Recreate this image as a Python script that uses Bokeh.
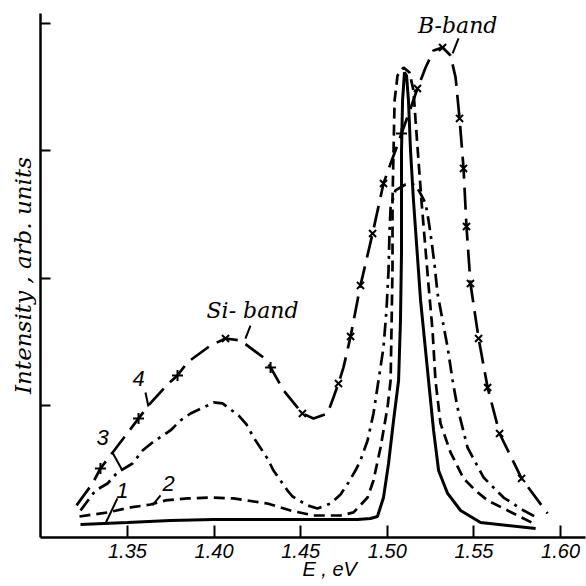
from bokeh.plotting import figure
from bokeh.models import Range1d, FixedTicker, Label, PrintfTickFormatter
from bokeh.embed import file_html
from bokeh.resources import INLINE

# ---- data (E in eV, intensity in arb. units) ----
x_ticks = [1.35, 1.40, 1.45, 1.50, 1.55, 1.60]
y_ticks = [1, 2, 3, 4]

c1_x = [1.3229, 1.3500, 1.3748, 1.3997, 1.4499, 1.4828, 1.4903, 1.4943, 1.4978, 1.5007,
        1.5036, 1.5065, 1.5076, 1.5082, 1.5082, 1.5088, 1.5099, 1.5111, 1.5122, 1.5134,
        1.5151, 1.5192, 1.5238, 1.5267, 1.5296, 1.5348, 1.5423, 1.5538, 1.5856]
c1_y = [0.065, 0.081, 0.097, 0.104, 0.104, 0.104, 0.112, 0.128, 0.277, 0.544,
        0.882, 1.196, 1.668, 2.218, 3.003, 3.396, 3.616, 3.592, 3.396, 3.003,
        2.610, 1.825, 1.196, 0.804, 0.489, 0.309, 0.175, 0.081, 0.034]

c2_x = [1.3223, 1.3385, 1.3517, 1.3633, 1.3719, 1.3846, 1.3997, 1.4112, 1.4308, 1.4441,
        1.4574, 1.4730, 1.4805, 1.4886, 1.4920, 1.4961, 1.5001, 1.5019, 1.5024, 1.5030,
        1.5030, 1.5036, 1.5042, 1.5059, 1.5094, 1.5128, 1.5151, 1.5163, 1.5180, 1.5197,
        1.5221, 1.5238, 1.5261, 1.5278, 1.5307, 1.5365, 1.5440, 1.5509, 1.5579, 1.5729,
        1.5844]
c2_y = [0.128, 0.160, 0.199, 0.222, 0.254, 0.270, 0.277, 0.270, 0.230, 0.175,
        0.136, 0.136, 0.160, 0.277, 0.411, 0.670, 0.984, 1.196, 1.589, 2.084,
        2.610, 3.003, 3.396, 3.592, 3.655, 3.616, 3.474, 3.239, 2.925, 2.610,
        2.218, 1.943, 1.589, 1.196, 0.859, 0.631, 0.427, 0.332, 0.254, 0.152,
        0.073]

c3_x = [1.3229, 1.3315, 1.3385, 1.3442, 1.3529, 1.3587, 1.3644, 1.3748, 1.3806, 1.3864,
        1.3962, 1.3997, 1.4049, 1.4141, 1.4187, 1.4228, 1.4308, 1.4343, 1.4424, 1.4453,
        1.4539, 1.4597, 1.4672, 1.4730, 1.4776, 1.4816, 1.4845, 1.4886, 1.4920, 1.4949,
        1.4978, 1.4995, 1.5007, 1.5013, 1.5019, 1.5047, 1.5105, 1.5140, 1.5169, 1.5197,
        1.5221, 1.5238, 1.5255, 1.5273, 1.5290, 1.5348, 1.5377, 1.5405, 1.5463, 1.5556,
        1.5671, 1.5787, 1.5873]
c3_y = [0.175, 0.332, 0.387, 0.474, 0.544, 0.646, 0.709, 0.804, 0.882, 0.937,
        1.000, 1.024, 1.016, 0.922, 0.851, 0.749, 0.584, 0.489, 0.332, 0.285,
        0.215, 0.191, 0.230, 0.301, 0.395, 0.489, 0.568, 0.725, 0.937, 1.196,
        1.456, 1.746, 2.061, 2.375, 2.555, 2.689, 2.736, 2.744, 2.720, 2.650,
        2.587, 2.453, 2.296, 2.100, 1.880, 1.456, 1.196, 0.984, 0.670, 0.434,
        0.277, 0.175, 0.112]

c4_x = [1.3206, 1.3298, 1.3344, 1.3564, 1.3621, 1.3737, 1.3789, 1.3846, 1.3979, 1.4066,
        1.4152, 1.4285, 1.4326, 1.4401, 1.4482, 1.4510, 1.4574, 1.4655, 1.4689, 1.4718,
        1.4747, 1.4788, 1.4828, 1.4845, 1.4915, 1.4978, 1.5019, 1.5047, 1.5082, 1.5134,
        1.5174, 1.5221, 1.5267, 1.5319, 1.5365, 1.5394, 1.5417, 1.5440, 1.5457, 1.5480,
        1.5527, 1.5579, 1.5648, 1.5775, 1.5925]
c4_y = [0.215, 0.387, 0.505, 0.898, 1.000, 1.173, 1.236, 1.338, 1.471, 1.526,
        1.511, 1.377, 1.299, 1.118, 0.984, 0.937, 0.898, 0.937, 1.063, 1.173,
        1.299, 1.542, 1.825, 1.943, 2.351, 2.744, 2.901, 3.003, 3.137, 3.333,
        3.490, 3.655, 3.789, 3.812, 3.749, 3.577, 3.255, 2.862, 2.406, 1.958,
        1.526, 1.141, 0.780, 0.427, 0.152]

c4_plus_x = [1.3344, 1.3564, 1.3789, 1.4326, 1.5082]
c4_plus_y = [0.505, 0.898, 1.236, 1.299, 3.137]
c4_cross_x = [1.4066, 1.4510, 1.4718, 1.4788, 1.4845, 1.4915, 1.4978, 1.5174, 1.5319,
              1.5417, 1.5440, 1.5457, 1.5480, 1.5527, 1.5579, 1.5648, 1.5775]
c4_cross_y = [1.526, 0.937, 1.173, 1.542, 1.943, 2.351, 2.744, 3.490, 3.812,
              3.255, 2.862, 2.406, 1.958, 1.526, 1.141, 0.780, 0.427]

# curve number labels and their leader lines
num_text = ["1", "2", "3", "4"]
num_x = [1.3471, 1.3737, 1.3356, 1.3564]
num_y = [0.336, 0.387, 0.749, 1.212]
lead_x0 = [1.3442, 1.3691, 1.3413, 1.3604, 1.4210, 1.5411]
lead_y0 = [0.270, 0.293, 0.631, 1.102, 1.628, 3.883]
lead_x1 = [1.3373, 1.3644, 1.3471, 1.3621, 1.4181, 1.5377]
lead_y1 = [0.073, 0.215, 0.489, 0.992, 1.526, 3.765]

band_text = ["Si- band", "B-band"]
band_x = [1.4222, 1.5406]
band_y = [1.746, 3.985]

x_label = "\u00a0" * 6 + "E , eV"
y_label = "Intensity , arb. units"

# ---- figure ----
p = figure(width=586, height=586, output_backend="svg", toolbar_location=None,
           x_range=Range1d(1.2998, 1.6144), y_range=Range1d(-0.037, 4.079),
           min_border_left=40, min_border_right=1, min_border_top=13, min_border_bottom=49)
p.grid.visible = False
p.outline_line_color = None
p.background_fill_color = "white"
p.border_fill_color = "white"

for ax in (p.xaxis[0], p.yaxis[0]):
    ax.axis_line_width = 2.5
    ax.axis_line_color = "black"
    ax.major_tick_line_width = 2
    ax.major_tick_line_color = "black"
    ax.major_tick_out = 0
    ax.minor_tick_line_color = None

p.xaxis.ticker = FixedTicker(ticks=x_ticks)
p.xaxis.formatter = PrintfTickFormatter(format="%.2f")
p.xaxis.major_tick_in = 12
p.xaxis.major_label_text_font = "Liberation Sans"
p.xaxis.major_label_text_font_style = "italic"
p.xaxis.major_label_text_font_size = "20px"
p.xaxis.major_label_text_color = "black"
p.xaxis.major_label_standoff = 6
p.xaxis.axis_label = x_label
p.xaxis.axis_label_text_font = "Liberation Sans"
p.xaxis.axis_label_text_font_style = "italic"
p.xaxis.axis_label_text_font_size = "20px"
p.xaxis.axis_label_text_color = "black"
p.xaxis.axis_label_standoff = -3

p.yaxis.ticker = FixedTicker(ticks=y_ticks)
p.yaxis.major_tick_in = 10
p.yaxis.major_label_overrides = {1: "", 2: "", 3: "", 4: ""}
p.yaxis.major_label_standoff = 0
p.yaxis.axis_label = y_label
p.yaxis.axis_label_text_font = "DejaVu Serif"
p.yaxis.axis_label_text_font_style = "italic"
p.yaxis.axis_label_text_font_size = "23px"
p.yaxis.axis_label_text_color = "black"
p.yaxis.axis_label_standoff = 5

LW = 2.7
p.line(c1_x, c1_y, line_width=3, color="black")
p.line(c2_x, c2_y, line_width=LW, color="black", line_dash="11 6")
p.line(c3_x, c3_y, line_width=LW, color="black", line_dash="14 6 3 6")
p.line(c4_x, c4_y, line_width=LW, color="black", line_dash="22 9")
p.scatter(c4_plus_x, c4_plus_y, marker="cross", size=11, line_width=2, color="black")
p.scatter(c4_cross_x, c4_cross_y, marker="x", size=10, line_width=2, color="black")

p.segment(lead_x0, lead_y0, lead_x1, lead_y1, line_width=2, color="black")

for t, x, y in zip(num_text, num_x, num_y):
    p.add_layout(Label(x=x, y=y, text=t, text_font="Liberation Sans", text_font_style="italic",
                       text_font_size="22px", text_align="center", text_baseline="middle",
                       text_color="black"))
for t, x, y in zip(band_text, band_x, band_y):
    p.add_layout(Label(x=x, y=y, text=t, text_font="DejaVu Serif", text_font_style="italic",
                       text_font_size="22px", text_align="center", text_baseline="middle",
                       text_color="black"))

open("out.html", "w").write(file_html(p, INLINE))
